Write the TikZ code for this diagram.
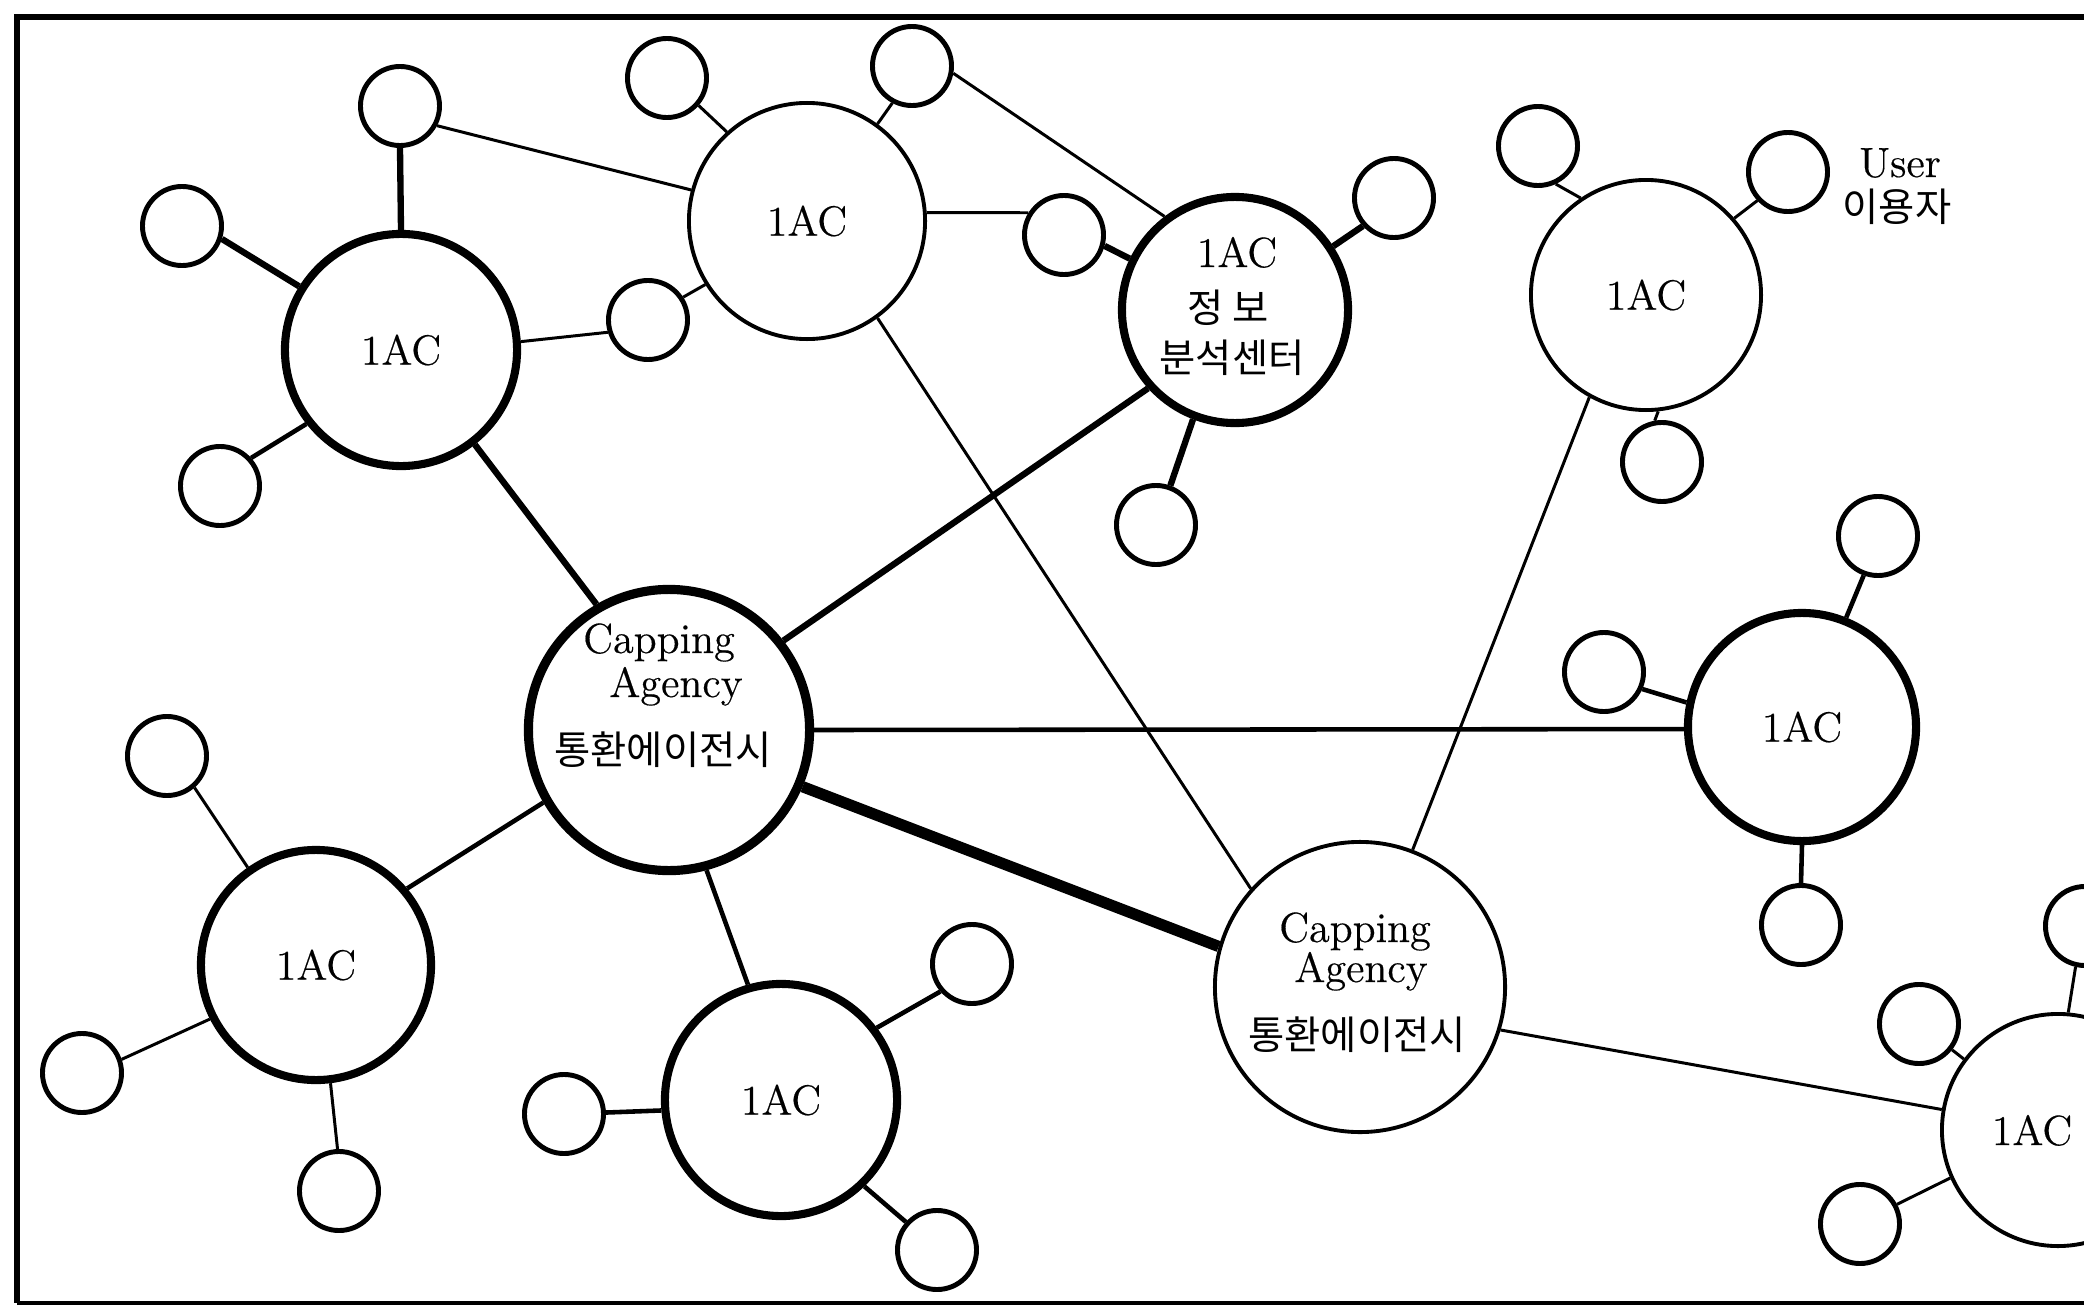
\documentclass[tikz,border=0pt]{standalone}
\usepackage{fontspec}
\newfontfamily\kr{Noto Sans CJK KR}
\newfontfamily\labelfont{Latin Modern Roman}[FakeBold=0.4]
\begin{document}
\begin{tikzpicture}[x=0.01cm,y=-0.01cm,
  latin/.style={font=\labelfont\fontsize{12}{14}\selectfont},
  hangul/.style={font=\kr\fontsize{11.2}{12}\selectfont},
  bigthick/.style={circle,draw,line width=2.3pt,inner sep=0pt,minimum size=#1,latin},
  bigthin/.style={circle,draw,line width=1.1pt,inner sep=0pt,minimum size=#1,latin},
  small/.style={circle,draw,line width=1.4pt,inner sep=0pt,minimum size=0.79cm},
  conthin/.style={line width=0.85pt},
  conmid/.style={line width=1.3pt},
  conthick/.style={line width=1.8pt},
  conheavy/.style={line width=3.2pt}]
\clip (0,0) rectangle (2084,1306);
\fill[white] (0,0) rectangle (2084,1306);

% frame
\draw[line width=1.7pt] (2084,17) -- (17,17) -- (17,1303);
\draw[line width=1.1pt] (17,1303) -- (2084,1303);

% access centres and agencies
\node[bigthick=2.32cm] (A) at (401,350) {1AC};
\node[bigthin=2.36cm]  (B) at (807,221) {1AC};
\node[bigthick=2.26cm] (C) at (1235,310) {};
\node[bigthin=2.30cm]  (D) at (1646,295) {1AC};
\node[circle,draw,line width=2.6pt,inner sep=0pt,minimum size=2.81cm] (E) at (669,730) {};
\node[bigthick=2.28cm] (F) at (1802,727) {1AC};
\node[bigthin=2.90cm]  (G) at (1360,987) {};
\node[bigthick=2.30cm] (H) at (316,965) {1AC};
\node[bigthick=2.32cm] (I) at (781,1100) {1AC};
\node[bigthin=2.32cm]  (J) at (2058,1130) {};

% labels of the larger circles
\node[latin,anchor=base] (C-t1) at (1237,267) {1AC};
\node[hangul] (C-t2) at (1228,308) {정 보};
\node[hangul] (C-t3) at (1232,358) {분석센터};
\node[latin,anchor=base] (E-t1) at (659,653) {Capping};
\node[latin,anchor=base] (E-t2) at (676,697) {Agency};
\node[hangul] (E-t3) at (663,750) {통환에이전시};
\node[latin,anchor=base] (G-t1) at (1355,942) {Capping};
\node[latin,anchor=base] (G-t2) at (1361,982) {Agency};
\node[hangul] (G-t3) at (1357,1035) {통환에이전시};
\node[latin,anchor=base] (J-t1) at (2032,1145) {1AC};

% users
\node[small] (sA1) at (400,106) {};
\node[small] (sA2) at (182,226) {};
\node[small] (sA3) at (220,486) {};
\node[small] (sA4) at (648,320) {};
\node[small] (sB1) at (667,78) {};
\node[small] (sB2) at (912,66) {};
\node[small] (sBC) at (1064,235) {};
\node[small] (sC1) at (1394,198) {};
\node[small] (sC2) at (1156,525) {};
\node[small] (sD1) at (1538,146) {};
\node[small] (sU)  at (1788,172) {};
\node[small] (sD2) at (1662,462) {};
\node[small] (sF1) at (1878,536) {};
\node[small] (sF2) at (1604,672) {};
\node[small] (sF3) at (1801,925) {};
\node[small] (sH1) at (167,756) {};
\node[small] (sH2) at (82,1073) {};
\node[small] (sH3) at (339,1191) {};
\node[small] (sI1) at (564,1114) {};
\node[small] (sI2) at (972,964) {};
\node[small] (sI3) at (937,1250) {};
\node[small] (sJ1) at (1919,1024) {};
\node[small] (sJ2) at (2085,926) {};
\node[small] (sJ3) at (1860,1224) {};

\node[latin,anchor=base] (U-t1) at (1900,177) {User};
\node[hangul] (U-t2) at (1897,207) {이용자};

% links between centres
\draw[conheavy] (E.-23) -- (G.164);
\draw[conthick] (E.38) -- (C.-138);
\draw[conthick] (A.-52) -- (E.120);
\draw[conmid] (E.0) -- (F.181);
\draw[conmid] (H.40) -- (E.-150);
\draw[conmid] (E.-75) -- (I.106);
\draw[conthin] (B.-54) -- (G.138);
\draw[conthin] (D.-119) -- (G.69);
\draw[conthin] (G.-17) -- (J.170);

% user links
\draw[conthick] (sA1.-90) -- (A.90);
\draw[conthick] (sA2.-18) -- (A.148);
\draw[conmid] (sA3.42) -- (A.-142);
\draw[conthin] (A.4) -- (sA4.-163);
\draw[conthin] (sA4.33) -- (B.-148);
\draw[conthin] (sA1.-28) -- (B.165);
\draw[conthin] (sB1.-41) -- (B.132);
\draw[conthin] (sB2.-118) -- (B.54);
\draw[conthin] (sB2.-10) -- (C.127);
\draw[conthin] (B.4) -- (sBC.148);
\draw[conthick] (sBC.-15) -- (C.154);
\draw[conthick] (C.33) -- (sC1.-138);
\draw[conthick] (C.-111) -- (sC2.70);
\draw[conthin] (sD1.-65) -- (D.124);
\draw[conthin] (D.41) -- (sU.-137);
\draw[conthin] (D.-84) -- (sD2.100);
\draw[conmid] (F.68) -- (sF1.-110);
\draw[conmid] (sF2.-24) -- (F.168);
\draw[conmid] (F.-90) -- (sF3.90);
\draw[conthin] (sH1.-49) -- (H.125);
\draw[conthin] (sH2.19) -- (H.-153);
\draw[conthin] (H.-83) -- (sH3.92);
\draw[conmid] (I.185) -- (sI1.2);
\draw[conmid] (I.37) -- (sI2.-139);
\draw[conmid] (I.-46) -- (sI3.138);
\draw[conthin] (sJ1.-38) -- (J.143);
\draw[conthin] (sJ2.-103) -- (J.85);
\draw[conthin] (sJ3.28) -- (J.-156);
\end{tikzpicture}
\end{document}
